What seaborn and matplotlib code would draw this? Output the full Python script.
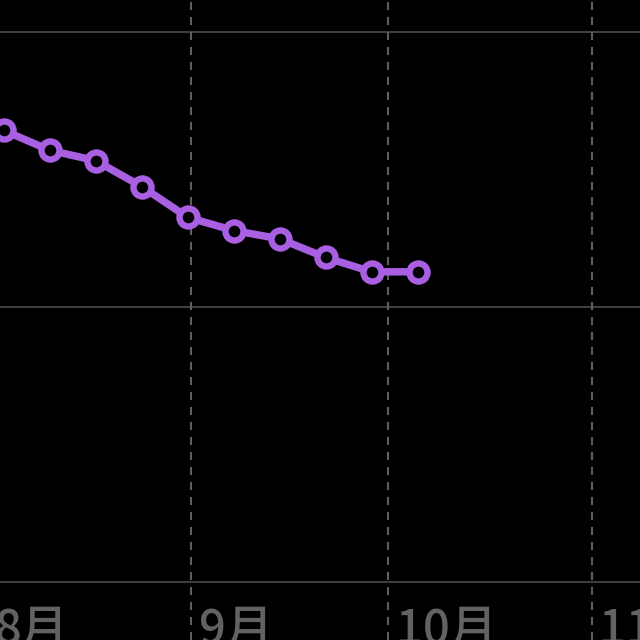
import matplotlib
matplotlib.use("Agg")
import matplotlib.pyplot as plt
import matplotlib.transforms as mtransforms
import seaborn as sns
import pandas as pd

# ---- data ----
dates = ["2023-08-03", "2023-08-10", "2023-08-17", "2023-08-24", "2023-08-31",
         "2023-09-07", "2023-09-14", "2023-09-21", "2023-09-28", "2023-10-05"]
values = [68.21, 67.85, 67.66, 67.19, 66.63, 66.39, 66.24, 65.90, 65.64, 65.64]
month_starts = ["2023-08-01", "2023-09-01", "2023-10-01", "2023-11-01"]
month_labels = ["8月", "9月", "10月", "11月"]
y_grid = [60, 65, 70]

sns.set_theme(style="dark")
plt.rcParams["font.family"] = ["Noto Sans CJK JP", "DejaVu Sans"]
plt.rcParams["lines.scale_dashes"] = False

df = pd.DataFrame({"date": pd.to_datetime(dates) + pd.Timedelta(hours=12),
                   "value": values})

fig = plt.figure(figsize=(6.4, 6.4), dpi=100, facecolor="black")
ax = fig.add_axes([0, 0, 1, 1])
ax.set_facecolor("black")

# grid
for g in y_grid:
    ax.axhline(g, color="#3e3e3e", lw=1.5, zorder=1)
for m in month_starts:
    ax.axvline(pd.Timestamp(m), color="#5e5e5e", lw=1.5,
               linestyle=(0, (5.8, 5.0)), zorder=1)

purple = "#A95FE2"
sns.lineplot(data=df, x="date", y="value", ax=ax, color=purple, lw=5.4,
             marker="o", markersize=13.0, markeredgewidth=4.6,
             markerfacecolor="black", markeredgecolor=purple, zorder=3)

ax.set_xlim(pd.Timestamp("2023-08-02 22:00"), pd.Timestamp("2023-11-08 09:00"))
ax.set_ylim(58.945, 70.582)

trans = mtransforms.blended_transform_factory(ax.transData, ax.transAxes)
for m, lab in zip(month_starts, month_labels):
    ax.text(pd.Timestamp(m) + pd.Timedelta(hours=28), -0.006, lab,
            transform=trans, color="#626262", fontsize=34, fontweight="medium",
            ha="left", va="baseline", clip_on=False)

ax.set_xticks([])
ax.set_yticks([])
ax.set_xlabel("")
ax.set_ylabel("")
for s in ax.spines.values():
    s.set_visible(False)
ax.grid(False)

fig.savefig("out.png", dpi=100, facecolor="black")
